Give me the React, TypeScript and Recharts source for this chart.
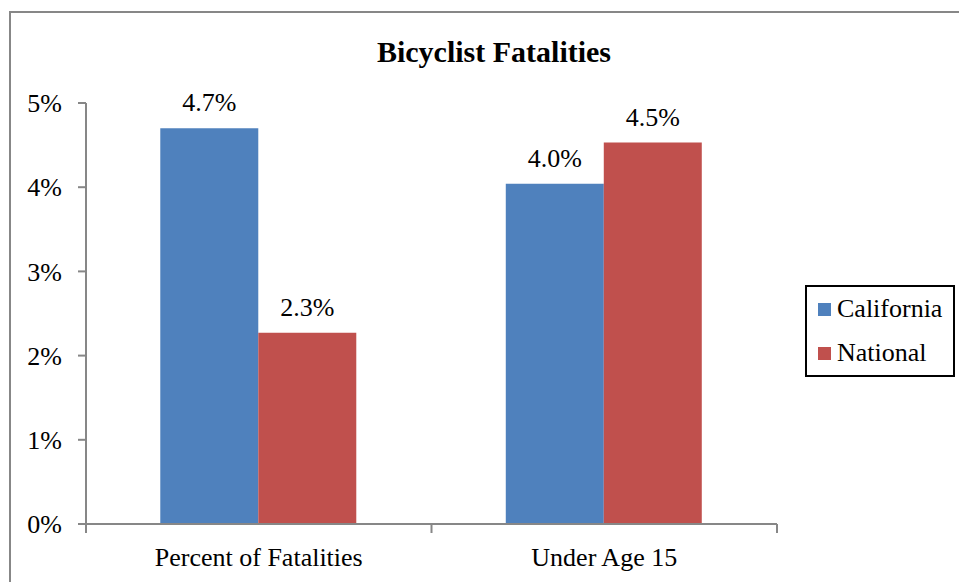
import React from "react";
import { BarChart, Bar, XAxis, YAxis, LabelList } from "recharts";

const categories = ["Percent of Fatalities", "Under Age 15"];
const californiaValues = [4.7, 4.04];
const nationalValues = [2.27, 4.53];
const yTicks = [0, 1, 2, 3, 4, 5];
const seriesNames = ["California", "National"];
const seriesColors = ["#4F81BD", "#C0504D"];

const data = categories.map((c, i) => ({
  name: c,
  California: californiaValues[i],
  National: nationalValues[i],
}));

const FONT = '"Liberation Serif", "Times New Roman", serif';
const AXIS_COLOR = "#878787";

const CategoryTick = (props: any) => {
  const { x, y, payload, index, visibleTicksCount } = props;
  const half = payload && typeof payload.offset === "number" ? payload.offset : 0;
  const top = y - 9;
  return (
    <g>
      <line x1={x - half} x2={x - half} y1={top} y2={y} stroke={AXIS_COLOR} strokeWidth={2} />
      {index === visibleTicksCount - 1 ? (
        <line x1={x + half} x2={x + half} y1={top} y2={y} stroke={AXIS_COLOR} strokeWidth={2} />
      ) : null}
      <text x={x} y={y + 33} textAnchor="middle" fill="#000" fontSize={26} fontFamily={FONT}>
        {payload.value}
      </text>
    </g>
  );
};

const LegendBox = () => (
  <div
    style={{
      position: "absolute",
      left: 805,
      top: 285,
      boxSizing: "border-box",
      width: 150,
      height: 92,
      border: "2px solid #000",
      background: "#fff",
      fontFamily: FONT,
      fontSize: 26,
      color: "#000",
    }}
  >
    {seriesNames.map((n, i) => (
      <div key={n} style={{ height: 44, display: "flex", alignItems: "center" }}>
        <div style={{ width: 13, height: 13, marginLeft: 11, marginRight: 6, background: seriesColors[i] }} />
        <span style={{ lineHeight: 1 }}>{n}</span>
      </div>
    ))}
  </div>
);

export default function App() {
  return (
    <div style={{ position: "absolute", left: 0, top: 0, width: 959, height: 582, background: "#fff", fontFamily: FONT, overflow: "hidden" }}>
      <BarChart
        width={959}
        height={582}
        data={data}
        margin={{ top: 103, right: 182, left: 6, bottom: 8 }}
        barCategoryGap="21.5%"
        barGap={0}
      >
        <XAxis
          dataKey="name"
          height={50}
          tickSize={9}
          tickMargin={0}
          tickLine={false}
          axisLine={{ stroke: AXIS_COLOR, strokeWidth: 2 }}
          tick={<CategoryTick />}
          interval={0}
        />
        <YAxis
          width={80}
          domain={[0, 5]}
          ticks={yTicks}
          tickFormatter={(v: number) => `${v}%`}
          tickSize={8}
          tickMargin={16}
          axisLine={{ stroke: AXIS_COLOR, strokeWidth: 2 }}
          tickLine={{ stroke: AXIS_COLOR, strokeWidth: 2 }}
          tick={{ fill: "#000", fontSize: 26, fontFamily: FONT }}
        />
        <Bar dataKey="California" fill={seriesColors[0]} isAnimationActive={false}>
          <LabelList
            dataKey="California"
            position="top"
            offset={17}
            formatter={(v: any) => `${Number(v).toFixed(1)}%`}
            fill="#000"
            fontSize={26}
            fontFamily={FONT}
          />
        </Bar>
        <Bar dataKey="National" fill={seriesColors[1]} isAnimationActive={false}>
          <LabelList
            dataKey="National"
            position="top"
            offset={17}
            formatter={(v: any) => `${Number(v).toFixed(1)}%`}
            fill="#000"
            fontSize={26}
            fontFamily={FONT}
          />
        </Bar>
      </BarChart>
      <svg
        width={959}
        height={582}
        style={{ position: "absolute", left: 0, top: 0, pointerEvents: "none" }}
      >
        <rect x={10} y={12} width={1000} height={1000} fill="none" stroke={AXIS_COLOR} strokeWidth={2} />
        <text x={494} y={62} textAnchor="middle" fontFamily={FONT} fontWeight="bold" fontSize={30} fill="#000">
          Bicyclist Fatalities
        </text>
      </svg>
      <LegendBox />
    </div>
  );
}
